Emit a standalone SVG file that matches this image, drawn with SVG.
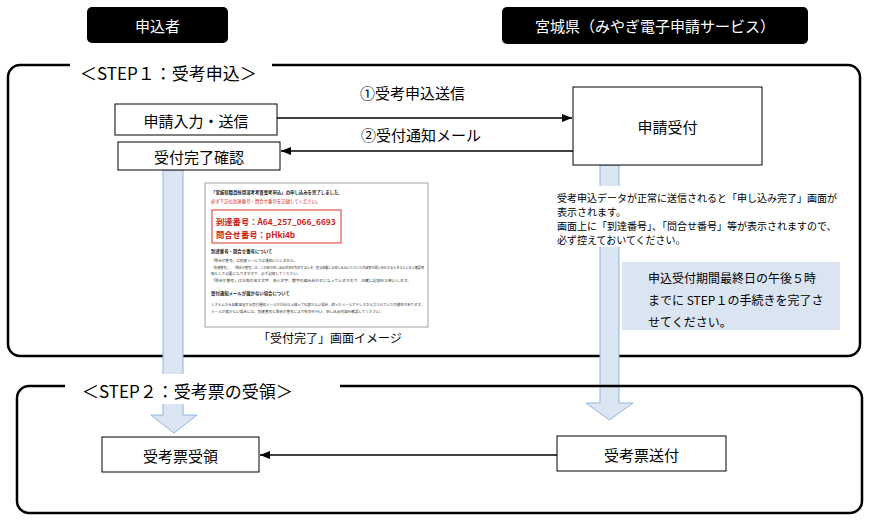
<svg xmlns="http://www.w3.org/2000/svg" width="873" height="523" viewBox="0 0 873 523">
<style>
text{font-family:"Noto Sans CJK JP","Noto Sans",sans-serif;fill:#000;dominant-baseline:central}
.hdr{fill:#000}
.hdrt{fill:#fff;font-size:15px;text-anchor:middle}
.frame{fill:none;stroke:#000;stroke-width:2.5}
.node{fill:#fff;stroke:#000;stroke-width:1}
.nt{font-size:15px;text-anchor:middle}
.step{font-size:17px}
.lbl{font-size:15px}
.conn{stroke:#000;stroke-width:1.3;fill:none}
.blk{fill:#dce6f2;stroke:#8eb4e3;stroke-width:1}
.para{font-size:10px}
.note{font-size:12px}
.ss{font-size:3.6px;fill:#333}
.ssb{font-size:4.4px;font-weight:bold;fill:#222}
.ssr{font-size:4.4px;fill:#d02020}
.ssn{font-size:8.3px;font-weight:bold;fill:#d02020}
</style>
<defs>
<marker id="ah" viewBox="0 0 10 8" refX="10" refY="4" markerWidth="10" markerHeight="8" markerUnits="userSpaceOnUse" orient="auto">
<path d="M0,0 L10,4 L0,8 Z" fill="#000"/>
</marker>
</defs>
<rect width="873" height="523" fill="#fff"/>

<g id="header-applicant">
<rect class="hdr" x="87" y="7" width="141" height="36" rx="5"/>
<text class="hdrt" x="157.5" y="25">申込者</text>
</g>
<g id="header-miyagi">
<rect class="hdr" x="502" y="7" width="306" height="37" rx="5"/>
<text class="hdrt" x="655" y="25.5">宮城県（みやぎ電子申請サービス）</text>
</g>

<g id="step1-frame">
<path class="frame" d="M70,65 H20 A12,12 0 0 0 8,77 V344 A12,12 0 0 0 20,356 H848 A12,12 0 0 0 860,344 V77 A12,12 0 0 0 848,65 H272"/>
<text class="step" x="80" y="72">＜STEP１：受考申込＞</text>
</g>

<g id="block-arrows">
<path class="blk" d="M163,170 H183 V415 H197 L174,433 L151,415 H163 Z"/>
<path class="blk" d="M600,165 H619 V403 H633 L609.5,420 L586,403 H600 Z"/>
</g>

<g id="step2-frame">
<rect x="78" y="374" width="214" height="30" fill="#fff"/>
<path class="frame" d="M65,386 H29 A12,12 0 0 0 17,398 V501 A12,12 0 0 0 29,513 H850 A12,12 0 0 0 862,501 V398 A12,12 0 0 0 850,386 H340"/>
<text class="step" x="82" y="390">＜STEP２：受考票の受領＞</text>
</g>

<g id="connectors">
<line class="conn" x1="277" y1="118" x2="572" y2="118" marker-end="url(#ah)"/>
<text class="lbl" x="360" y="92">①受考申込送信</text>
<line class="conn" x1="573" y1="151" x2="281" y2="151" marker-end="url(#ah)"/>
<text class="lbl" x="361" y="134">②受付通知メール</text>
<line class="conn" x1="557" y1="455" x2="260" y2="455" marker-end="url(#ah)"/>
</g>

<g id="node-input">
<rect class="node" x="115" y="104" width="162" height="31"/>
<text class="nt" x="196" y="120">申請入力・送信</text>
</g>
<g id="node-confirm">
<rect class="node" x="118" y="142" width="162" height="28"/>
<text class="nt" x="199" y="156.5">受付完了確認</text>
</g>
<g id="node-receive">
<rect class="node" x="573" y="87" width="189" height="78" stroke="#333"/>
<text class="nt" x="667.5" y="126.5">申請受付</text>
</g>
<g id="node-ticket-receive">
<rect class="node" x="102" y="437" width="157" height="35"/>
<text class="nt" x="180.5" y="455">受考票受領</text>
</g>
<g id="node-ticket-send">
<rect class="node" x="557" y="436" width="169" height="35"/>
<text class="nt" x="641.5" y="454">受考票送付</text>
</g>

<g id="screenshot">
<rect x="205" y="183" width="223" height="144" fill="#fff" stroke="#a0a0a0" stroke-width="1"/>
<text class="ssb" x="211" y="192">「宮城県職員採用選考考査受考申込」の申し込みを完了しました。</text>
<text class="ssr" x="211" y="201">必ず下記の到達番号・問合せ番号を記録してください。</text>
<rect x="212" y="210" width="129" height="33" fill="#fff" stroke="#e03030" stroke-width="1"/>
<text class="ssn" x="216" y="221">到達番号：A64_257_066_6693</text>
<text class="ssn" x="216" y="234">問合せ番号：pHki4b</text>
<text class="ssb" x="211" y="251">到達番号・問合せ番号について</text>
<text class="ss" x="211" y="260">「問合せ番号」は到達メールでは通知いたしません。</text>
<text class="ss" x="211" y="267" textLength="213" lengthAdjust="spacingAndGlyphs">「到達番号」、「問合せ番号」は、この後の申し込み状況を照会するとき、担当部署にお申し込みいただいた内容等を問い合わせるときなどに本人確認情</text>
<text class="ss" x="211" y="273">報として必要になりますので、必ず記録してください。</text>
<text class="ss" x="211" y="280" textLength="200" lengthAdjust="spacingAndGlyphs">「問合せ番号」は半角の英大文字、英小文字、数字の組み合わせになっていますので、正確に記録をお願いします。</text>
<text class="ssb" x="211" y="293">受付通知メールが届かない場合について</text>
<text class="ss" x="211" y="304" textLength="213" lengthAdjust="spacingAndGlyphs">システムから自動送信する受付通知メールが15分以上経っても届かない場合、誤ったメールアドレスが入力されていた可能性があります。</text>
<text class="ss" x="211" y="311">メールが届かない場合には、到達番号と問合せ番号により照会を行い、申し込み内容を確認してください。</text>
<text x="330" y="337" font-size="12" text-anchor="middle">「受付完了」画面イメージ</text>
</g>

<g id="explanation">
<rect x="553" y="186" width="296" height="61" fill="#fff"/>
<text class="para" x="557" y="197">受考申込データが正常に送信されると「申し込み完了」画面が</text>
<text class="para" x="557" y="211">表示されます。</text>
<text class="para" x="557" y="225">画面上に「到達番号」、「問合せ番号」等が表示されますので、</text>
<text class="para" x="557" y="239">必ず控えておいてください。</text>
</g>

<g id="deadline-note">
<rect x="622" y="262" width="218" height="68" fill="#dbe5f1"/>
<text class="note" x="648" y="277">申込受付期間最終日の午後５時</text>
<text class="note" x="648" y="299">までに STEP１の手続きを完了さ</text>
<text class="note" x="648" y="321">せてください。</text>
</g>
</svg>
